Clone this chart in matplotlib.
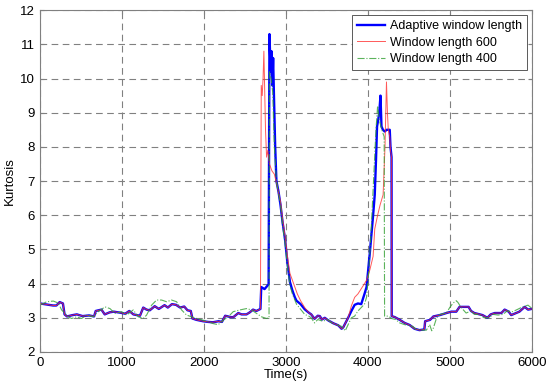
import matplotlib.pyplot as plt

plt.rcParams['font.family'] = ['Liberation Sans', 'DejaVu Sans']

# adaptive window length
blue_t = [0, 160, 200, 240, 280, 300, 330, 400, 450, 520, 600, 660, 680, 750, 790,
          850, 900, 980, 1040, 1090, 1140, 1220, 1260, 1300, 1340, 1400, 1450, 1520,
          1560, 1610, 1660, 1710, 1760, 1800, 1840, 1860, 1910, 1990, 2050, 2110,
          2180, 2220, 2260, 2330, 2360, 2420, 2460, 2520, 2560, 2600, 2640, 2690,
          2700, 2740, 2790, 2800, 2815, 2825, 2835, 2845, 2855, 2870, 2885, 2910,
          2935, 2960, 2990, 3020, 3050, 3080, 3110, 3130, 3180, 3230, 3280, 3310,
          3350, 3390, 3415, 3440, 3475, 3520, 3580, 3640, 3680, 3700, 3760, 3800,
          3840, 3880, 3920, 3960, 3985, 4005, 4025, 4045, 4065, 4085, 4100, 4113,
          4128, 4140, 4155, 4167, 4185, 4207, 4230, 4268, 4277, 4290, 4292, 4330,
          4390, 4450, 4510, 4570, 4630, 4690, 4700, 4760, 4800, 4880, 4960, 5020,
          5080, 5120, 5230, 5260, 5300, 5400, 5460, 5500, 5550, 5630, 5670, 5720,
          5750, 5850, 5915, 5955, 6000]
blue_k = [3.42, 3.36, 3.36, 3.46, 3.42, 3.1, 3.04, 3.08, 3.1, 3.05, 3.07, 3.04, 3.2,
          3.24, 3.1, 3.16, 3.18, 3.15, 3.12, 3.2, 3.1, 3.06, 3.3, 3.24, 3.22, 3.34,
          3.26, 3.37, 3.3, 3.4, 3.38, 3.3, 3.33, 3.22, 3.2, 2.98, 2.94, 2.9, 2.88,
          2.87, 2.9, 2.88, 3.06, 3.02, 3.02, 3.14, 3.1, 3.1, 3.16, 3.24, 3.2, 3.26,
          3.9, 3.84, 3.98, 11.3, 10.2, 10.8, 9.8, 10.6, 9.5, 8.0, 7.0, 6.7, 6.3, 5.8,
          5.3, 4.6, 4.05, 3.8, 3.6, 3.5, 3.4, 3.25, 3.15, 3.1, 2.97, 3.06, 3.05,
          2.95, 3.0, 2.92, 2.84, 2.78, 2.68, 2.72, 3.0, 3.2, 3.38, 3.42, 3.4, 3.7,
          3.9, 4.4, 4.9, 5.45, 6.0, 6.6, 7.6, 8.6, 8.8, 9.0, 9.5, 8.6, 8.5, 8.45,
          8.5, 8.5, 8.0, 7.7, 3.05, 3.02, 2.94, 2.85, 2.79, 2.68, 2.64, 2.66, 2.9,
          2.94, 3.04, 3.08, 3.14, 3.18, 3.18, 3.32, 3.32, 3.2, 3.14, 3.08, 3.0, 3.1,
          3.14, 3.14, 3.24, 3.18, 3.08, 3.18, 3.32, 3.24, 3.26]

# window length 600 (own values around the two peaks)
red_peak1_t = [2700, 2712, 2722, 2732, 2742, 2752, 2765, 2780, 2800, 2830, 2860, 2890,
               2935, 2960, 2990, 3020, 3050, 3080, 3110, 3140, 3180, 3230, 3280]
red_peak1_k = [9.8, 9.5, 10.0, 10.8, 9.6, 8.5, 7.7, 7.9, 7.5, 7.3, 7.2, 6.9,
               6.4, 5.9, 5.4, 4.8, 4.3, 4.1, 3.9, 3.7, 3.5, 3.3, 3.15]
red_peak2_t = [3800, 3840, 3880, 3920, 3960, 3985, 4025, 4065, 4085, 4120, 4150, 4187,
               4210, 4228, 4240, 4250, 4268, 4277, 4290]
red_peak2_k = [3.35, 3.6, 3.7, 3.85, 4.0, 4.1, 4.4, 4.8, 5.6, 6.0, 6.3, 6.6,
               8.0, 9.9, 9.0, 8.5, 8.3, 7.9, 7.7]

# window length 400
green_t = [0, 40, 81, 163, 224, 264, 305, 345, 386, 447, 508, 569, 650, 711, 793, 854,
           915, 996, 1057, 1138, 1199, 1260, 1301, 1362, 1423, 1484, 1545, 1606, 1667,
           1728, 1789, 1850, 1911, 1992, 2053, 2114, 2175, 2236, 2297, 2358, 2439,
           2520, 2581, 2642, 2703, 2764, 2795, 2800, 2820, 2840, 2860, 2885, 2935,
           2960, 2990, 3020, 3050, 3080, 3130, 3180, 3230, 3280, 3310, 3350, 3390,
           3450, 3510, 3560, 3620, 3680, 3725, 3760, 3800, 3840, 3880, 3920, 3960,
           3985, 4010, 4040, 4070, 4100, 4120, 4140, 4160, 4185, 4200, 4205, 4250,
           4290, 4340, 4390, 4450, 4550, 4590, 4670, 4715, 4755, 4780, 4800, 4840,
           4880, 4960, 5000, 5040, 5080, 5100, 5140, 5200, 5260, 5300, 5360, 5420,
           5480, 5530, 5590, 5650, 5700, 5770, 5830, 5890, 5955, 6000]
green_k = [3.37, 3.42, 3.47, 3.49, 3.43, 3.23, 3.13, 3.03, 2.98, 3.03, 2.98, 3.08,
           3.03, 3.18, 3.32, 3.27, 3.13, 3.18, 3.08, 3.23, 3.03, 2.98, 3.08, 3.37,
           3.52, 3.52, 3.47, 3.52, 3.47, 3.23, 3.08, 3.03, 2.98, 2.93, 2.88, 2.83,
           2.8, 2.93, 3.03, 3.18, 3.23, 3.27, 3.23, 3.13, 3.03, 2.98, 3.0, 10.2, 10.0,
           9.6, 8.0, 7.0, 6.3, 5.7, 5.2, 4.5, 3.95, 3.7, 3.4, 3.25, 3.1, 3.05, 3.0,
           2.85, 2.95, 2.9, 2.95, 2.85, 2.8, 2.75, 2.62, 2.8, 3.0, 3.05, 3.2, 3.3,
           3.4, 3.6, 4.3, 5.5, 7.0, 8.5, 9.2, 8.8, 8.6, 8.4, 8.3, 3.05, 3.05, 2.98,
           2.95, 2.85, 2.8, 2.75, 2.66, 2.64, 2.64, 2.8, 2.62, 2.7, 3.0, 3.1, 3.14,
           3.3, 3.43, 3.5, 3.45, 3.3, 3.14, 3.2, 3.1, 3.1, 3.0, 3.0, 3.1, 3.08, 3.1,
           3.2, 3.18, 3.25, 3.32, 3.37, 3.28]

# red follows the adaptive curve outside the peaks
i1 = blue_t.index(2690)
i2 = blue_t.index(3310)
i3 = blue_t.index(3760)
i4 = blue_t.index(4292)
red_t = blue_t[:i1 + 1] + red_peak1_t + blue_t[i2:i3 + 1] + red_peak2_t + blue_t[i4:]
red_k = blue_k[:i1 + 1] + red_peak1_k + blue_k[i2:i3 + 1] + red_peak2_k + blue_k[i4:]

fig = plt.figure(figsize=(5.5, 3.88), dpi=100)
ax = fig.add_axes([0.0727, 0.0928, 0.894, 0.881])

ax.plot(blue_t, blue_k, color='#0000ff', lw=1.7, label='Adaptive window length')
ax.plot(red_t, red_k, color='#ff3030', lw=0.7, alpha=0.8, label='Window length 600')
ax.plot(green_t, green_k, color='#33a033', lw=0.8, ls='-.', alpha=0.8,
        label='Window length 400')

ax.set_xlim(0, 6000)
ax.set_ylim(2, 12)
ax.set_xticks(range(0, 6001, 1000))
ax.set_yticks(range(2, 13))
ax.grid(True, color='#808080', ls=(0, (6, 4)), lw=0.8)
ax.tick_params(direction='in', labelsize=9.5, length=3, color='#808080',
               top=True, right=True)
for s in ax.spines.values():
    s.set_color('#808080')

ax.set_xlabel('Time(s)', fontsize=9.5, labelpad=0)
ax.set_ylabel('Kurtosis', fontsize=9.5, labelpad=3)

leg = ax.legend(loc='upper right', fontsize=9, fancybox=False, framealpha=1,
                edgecolor='#404040', handlelength=2.2, borderaxespad=0.4,
                labelspacing=0.35, borderpad=0.4, handletextpad=0.4)
leg.get_frame().set_linewidth(0.6)

fig.savefig('out.png', dpi=100)
